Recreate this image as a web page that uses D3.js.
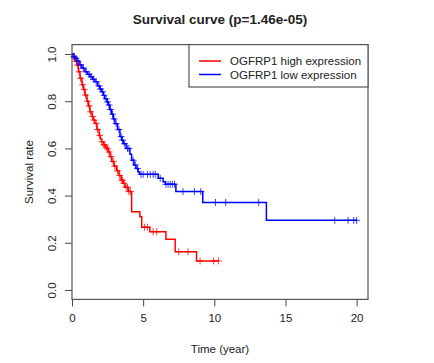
<!DOCTYPE html>
<html>
<head>
<meta charset="utf-8">
<script src="https://cdn.jsdelivr.net/npm/d3@7"></script>
<style>
  body { margin: 0; background: #fff; }
  text { font-family: "Liberation Sans", Arial, Helvetica, sans-serif; fill: #222; }
</style>
</head>
<body>
<div id="chart"></div>
<script>
// Kaplan-Meier steps: [time (year), survival after the drop]
const highSteps = [
  [0.1, 0.985], [0.2, 0.97], [0.33, 0.953], [0.45, 0.925], [0.56, 0.897], [0.7, 0.87],
  [0.8, 0.85], [0.91, 0.826], [1.05, 0.8], [1.15, 0.78], [1.26, 0.755], [1.4, 0.735],
  [1.5, 0.72], [1.61, 0.706], [1.75, 0.68], [1.9, 0.655], [2.0, 0.64], [2.08, 0.628],
  [2.2, 0.615], [2.35, 0.605], [2.45, 0.598], [2.55, 0.585], [2.67, 0.565], [2.8, 0.545],
  [2.95, 0.525], [3.13, 0.505], [3.3, 0.485], [3.45, 0.465], [3.6, 0.452], [3.72, 0.435],
  [3.95, 0.417], [4.19, 0.332], [4.77, 0.31], [4.9, 0.266], [5.47, 0.247], [6.6, 0.215],
  [7.25, 0.162], [8.75, 0.123]
];
const highCensor = [
  0.15, 0.3, 0.4, 0.5, 0.6, 0.75, 0.85, 0.95, 1.1, 1.2, 1.3, 1.45, 1.55, 1.7, 1.8, 1.95,
  2.1, 2.25, 2.3, 2.4, 2.5, 2.6, 2.75, 2.9, 3.0, 3.2, 3.35, 3.5, 3.55, 3.65, 3.8, 3.9,
  4.0, 4.1, 5.1, 5.3, 5.7, 5.95, 7.5, 8.15, 9.0, 9.95, 10.3
];

const lowSteps = [
  [0.1, 0.99], [0.21, 0.982], [0.35, 0.97], [0.5, 0.955], [0.7, 0.94], [0.91, 0.925],
  [1.1, 0.914], [1.26, 0.904], [1.45, 0.893], [1.61, 0.883], [1.8, 0.865], [1.95, 0.852],
  [2.08, 0.84], [2.2, 0.825], [2.3, 0.81], [2.45, 0.797], [2.55, 0.784], [2.65, 0.765],
  [2.78, 0.745], [2.9, 0.725], [3.02, 0.705], [3.2, 0.68], [3.37, 0.65], [3.5, 0.635],
  [3.6, 0.62], [3.8, 0.6], [4.07, 0.575], [4.19, 0.55], [4.35, 0.53], [4.5, 0.515],
  [4.65, 0.5], [4.75, 0.49], [6.06, 0.473], [6.4, 0.459], [6.55, 0.448], [7.3, 0.417],
  [9.19, 0.371], [13.66, 0.295]
];
const lowCensor = [
  0.15, 0.28, 0.42, 0.6, 0.8, 1.0, 1.2, 1.35, 1.5, 1.7, 1.9, 2.0, 2.15, 2.25, 2.4, 2.5,
  2.6, 2.7, 2.85, 2.95, 3.1, 3.3, 3.45, 3.55, 3.7, 3.9, 4.0, 4.3, 4.45, 4.6, 4.85, 5.0,
  5.3, 5.5, 5.7, 5.85, 6.2, 6.6, 6.75, 6.9, 7.05, 7.2, 7.8, 8.6, 9.05, 10.08, 10.8,
  13.12, 18.46, 19.4, 19.8, 20.0
];

const groups = [
  { name: "OGFRP1 high expression", color: "#ff0000", steps: highSteps, censor: highCensor },
  { name: "OGFRP1 low expression", color: "#0000ff", steps: lowSteps, censor: lowCensor }
];

const xTicks = [0, 5, 10, 15, 20];
const yTicks = [0, 0.2, 0.4, 0.6, 0.8, 1.0];

const width = 434, height = 363;
const margin = { top: 44.6, right: 66, bottom: 63.6, left: 72 };

const svg = d3.select("#chart")
  .append("svg")
  .attr("width", width)
  .attr("height", height);

// Scales
const x = d3.scaleLinear().domain([0, 20.8]).range([margin.left, width - margin.right]);
const y = d3.scaleLinear().domain([-0.04, 1.04]).range([height - margin.bottom, margin.top]);

// Axes
const xAxis = svg.append("g")
  .attr("transform", `translate(0,${height - margin.bottom})`)
  .call(d3.axisBottom(x).tickValues(xTicks).tickSize(7).tickPadding(5).tickFormat(d3.format("d")));

const yAxis = svg.append("g")
  .attr("transform", `translate(${margin.left},0)`)
  .call(d3.axisLeft(y).tickValues(yTicks).tickSize(7).tickFormat(d3.format(".1f")));

[xAxis, yAxis].forEach(g => {
  g.select(".domain").remove();
  g.selectAll("line").attr("stroke", "#444");
  g.selectAll("text").attr("font-size", "11.5px").attr("fill", "#222");
});
xAxis.selectAll("text").attr("dy", "0.95em");

yAxis.selectAll(".tick text")
  .attr("x", null).attr("dy", null)
  .attr("text-anchor", "middle")
  .attr("transform", "translate(-16,0) rotate(-90)");

// Plot box
svg.append("rect")
  .attr("x", margin.left)
  .attr("y", margin.top)
  .attr("width", width - margin.left - margin.right)
  .attr("height", height - margin.top - margin.bottom)
  .attr("fill", "none")
  .attr("stroke", "#555")
  .attr("stroke-width", 1.2);

// Curves
const line = d3.line().x(d => x(d[0])).y(d => y(d[1])).curve(d3.curveStepAfter);

function survAt(steps, t) {
  let s = 1;
  steps.forEach(d => { if (d[0] <= t) s = d[1]; });
  return s;
}

groups.forEach(g => {
  const end = d3.max(g.censor);
  const pts = [[0, 1]].concat(g.steps, [[end, survAt(g.steps, end)]]);

  svg.append("path")
    .datum(pts)
    .attr("fill", "none")
    .attr("stroke", g.color)
    .attr("stroke-width", 1.5)
    .attr("d", line);

  svg.append("g")
    .selectAll("path")
    .data(g.censor)
    .join("path")
    .attr("transform", d => `translate(${x(d)},${y(survAt(g.steps, d))})`)
    .attr("d", "M-3.5,0H3.5M0,-3.5V3.5")
    .attr("stroke", g.color)
    .attr("stroke-opacity", 0.75)
    .attr("stroke-width", 1);
});

// Legend
const legend = svg.append("g");
const lgX0 = 189, lgX1 = width - margin.right, lgY0 = margin.top, lgY1 = 87;
legend.append("rect")
  .attr("x", lgX0).attr("y", lgY0)
  .attr("width", lgX1 - lgX0).attr("height", lgY1 - lgY0)
  .attr("fill", "#fff").attr("stroke", "#555").attr("stroke-width", 1.2);

groups.forEach((g, i) => {
  const ly = 61 + i * 13.5;
  legend.append("line")
    .attr("x1", 199).attr("x2", 221).attr("y1", ly).attr("y2", ly)
    .attr("stroke", g.color).attr("stroke-width", 1.5);
  legend.append("text")
    .attr("x", 230).attr("y", ly).attr("dy", "0.35em")
    .attr("font-size", "11.5px")
    .text(g.name);
});

// Titles
svg.append("text")
  .attr("x", (margin.left + width - margin.right) / 2)
  .attr("y", 24)
  .attr("text-anchor", "middle")
  .attr("font-size", "13.5px")
  .attr("font-weight", "bold")
  .text("Survival curve (p=1.46e-05)");

svg.append("text")
  .attr("x", (margin.left + width - margin.right) / 2)
  .attr("y", 353)
  .attr("text-anchor", "middle")
  .attr("font-size", "11.5px")
  .text("Time (year)");

svg.append("text")
  .attr("transform", `translate(33,${(margin.top + height - margin.bottom) / 2}) rotate(-90)`)
  .attr("text-anchor", "middle")
  .attr("font-size", "11.5px")
  .text("Survival rate");
</script>
</body>
</html>
